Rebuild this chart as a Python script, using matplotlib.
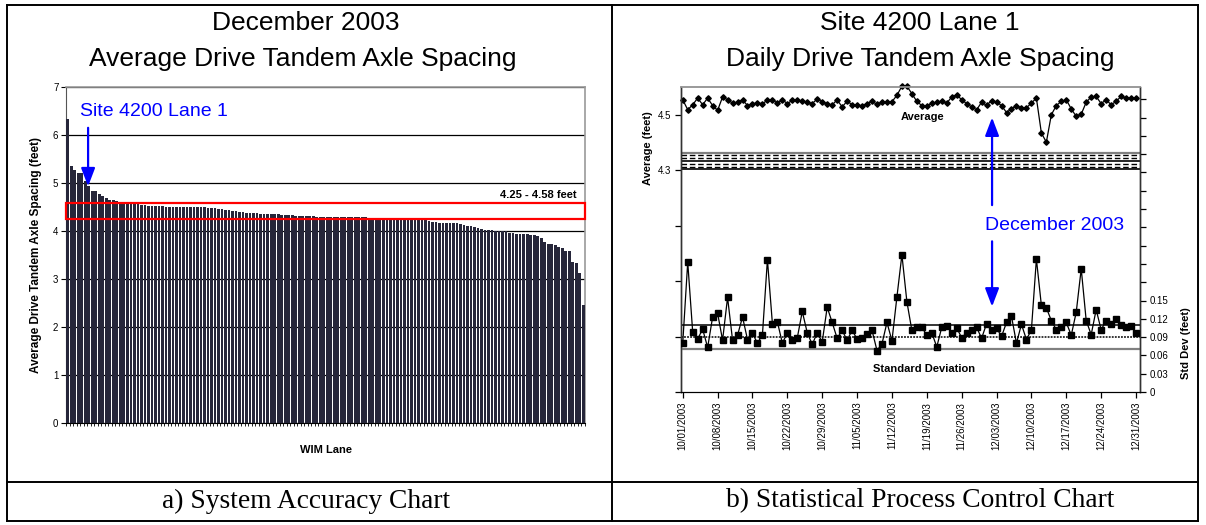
import matplotlib
matplotlib.use("Agg")
import matplotlib.pyplot as plt
import numpy as np
import pandas as pd
from matplotlib.lines import Line2D

plt.rcParams['font.family'] = ['Liberation Sans', 'DejaVu Sans']

# ---------------- data: left chart (sorted lane averages) ----------------
lane_avg = [6.33, 5.35, 5.27, 5.21, 5.20, 5.05, 4.93, 4.84, 4.83, 4.77,
            4.72, 4.68, 4.65, 4.65, 4.62, 4.60, 4.60, 4.59, 4.59, 4.58,
            4.57, 4.55, 4.54, 4.53, 4.53, 4.52, 4.52, 4.52, 4.51, 4.51,
            4.51, 4.51, 4.51, 4.50, 4.50, 4.50, 4.50, 4.50, 4.50, 4.49,
            4.48, 4.47, 4.47, 4.46, 4.45, 4.44, 4.43, 4.42, 4.41, 4.40,
            4.39, 4.38, 4.37, 4.37, 4.37, 4.36, 4.36, 4.36, 4.35, 4.35,
            4.35, 4.34, 4.34, 4.33, 4.33, 4.32, 4.32, 4.32, 4.31, 4.31,
            4.31, 4.30, 4.30, 4.30, 4.30, 4.30, 4.30, 4.30, 4.30, 4.30,
            4.30, 4.29, 4.29, 4.29, 4.29, 4.29, 4.28, 4.28, 4.27, 4.27,
            4.26, 4.26, 4.26, 4.26, 4.25, 4.25, 4.25, 4.25, 4.24, 4.24,
            4.24, 4.24, 4.22, 4.20, 4.19, 4.18, 4.17, 4.17, 4.17, 4.16,
            4.16, 4.16, 4.14, 4.12, 4.10, 4.10, 4.09, 4.06, 4.04, 4.03,
            4.03, 4.02, 4.01, 4.00, 4.00, 3.99, 3.96, 3.95, 3.94, 3.94,
            3.93, 3.93, 3.92, 3.91, 3.89, 3.85, 3.77, 3.73, 3.73, 3.70,
            3.66, 3.64, 3.58, 3.58, 3.36, 3.34, 3.13, 2.46]
band_low, band_high = 4.25, 4.58

# ---------------- data: right chart (daily SPC) ----------------
dates = pd.date_range("2003-10-01", "2003-12-31", freq="D")
daily_avg = [4.554, 4.518, 4.536, 4.560, 4.536, 4.560, 4.533, 4.516, 4.564, 4.554,
             4.542, 4.545, 4.554, 4.533, 4.540, 4.542, 4.540, 4.552, 4.554, 4.542,
             4.554, 4.540, 4.552, 4.554, 4.548, 4.547, 4.540, 4.557, 4.547, 4.540,
             4.535, 4.554, 4.528, 4.549, 4.536, 4.534, 4.533, 4.540, 4.549, 4.537,
             4.547, 4.545, 4.547, 4.570, 4.603, 4.603,
             4.576, 4.548, 4.533, 4.530, 4.542, 4.545, 4.549, 4.542, 4.564, 4.572,
             4.554, 4.540, 4.528, 4.518, 4.545, 4.534, 4.551, 4.546, 4.533, 4.508,
             4.521, 4.533, 4.525, 4.525, 4.542, 4.560, 4.434, 4.401, 4.500, 4.533,
             4.548, 4.554, 4.521, 4.494, 4.502, 4.545, 4.564, 4.566, 4.540, 4.554,
             4.536, 4.548, 4.566, 4.560, 4.559, 4.559]
daily_std = [0.080, 0.213, 0.098, 0.087, 0.103, 0.073, 0.123, 0.129, 0.085, 0.155,
             0.085, 0.093, 0.123, 0.086, 0.096, 0.080, 0.094, 0.217, 0.112, 0.115,
             0.080, 0.097, 0.086, 0.089, 0.132, 0.097, 0.078, 0.097, 0.082, 0.139,
             0.114, 0.088, 0.101, 0.085, 0.101, 0.087, 0.089, 0.095, 0.101, 0.068,
             0.079, 0.114, 0.084, 0.156, 0.225, 0.148,
             0.101, 0.106, 0.106, 0.093, 0.097, 0.074, 0.106, 0.109, 0.096, 0.105,
             0.089, 0.097, 0.101, 0.106, 0.088, 0.112, 0.101, 0.105, 0.091, 0.114,
             0.124, 0.080, 0.111, 0.086, 0.102, 0.218, 0.142, 0.138, 0.117, 0.102,
             0.106, 0.114, 0.093, 0.131, 0.202, 0.117, 0.094, 0.135, 0.102, 0.117,
             0.112, 0.119, 0.110, 0.107, 0.109, 0.097]
avg_limits_solid = [4.303, 4.333]
avg_limit_gray = 4.363
avg_limits_dashed = [4.313, 4.323, 4.343, 4.353]
std_ucl, std_center, std_lcl = 0.11, 0.09, 0.07
date_ticks = dates[::7]

W, H = 1206, 525
fig = plt.figure(figsize=(W / 100, H / 100), dpi=100)
fig.patch.set_facecolor('white')

def fx(px):
    return px / W

def fy(py):
    return 1 - py / H

# ---------------- table frame ----------------
frame_kw = dict(color='black', lw=1.4, transform=fig.transFigure)
fig.add_artist(Line2D([fx(7), fx(1198)], [fy(5), fy(5)], **frame_kw))
fig.add_artist(Line2D([fx(7), fx(1198)], [fy(521), fy(521)], **frame_kw))
fig.add_artist(Line2D([fx(7), fx(7)], [fy(5), fy(521)], **frame_kw))
fig.add_artist(Line2D([fx(1198), fx(1198)], [fy(5), fy(521)], **frame_kw))
fig.add_artist(Line2D([fx(612), fx(612)], [fy(5), fy(521)], **frame_kw))
fig.add_artist(Line2D([fx(7), fx(1198)], [fy(482), fy(482)], **frame_kw))

serif = ['Liberation Serif', 'DejaVu Serif']
fig.text(fx(306), fy(501), "a) System Accuracy Chart", family=serif,
         fontsize=19.8, ha='center', va='center')
fig.text(fx(920), fy(501), "b) Statistical Process Control Chart", family=serif,
         fontsize=19.8, ha='center', va='center')

fig.text(fx(306), fy(23), "December 2003", fontsize=19, ha='center', va='center')
fig.text(fx(303), fy(59), "Average Drive Tandem Axle Spacing", fontsize=19,
         ha='center', va='center')
fig.text(fx(920), fy(23), "Site 4200 Lane 1", fontsize=19, ha='center', va='center')
fig.text(fx(920), fy(59), "Daily Drive Tandem Axle Spacing", fontsize=19,
         ha='center', va='center')

# ---------------- left chart ----------------
axL = fig.add_axes([fx(66), fy(423), (585 - 66) / W, (423 - 87) / H])
n = len(lane_avg)
xs = np.arange(n)
axL.bar(xs, lane_avg, width=0.78, color='#26263a', edgecolor='none',
        linewidth=0, zorder=3)
axL.set_xlim(-0.5, n - 0.5)
axL.set_ylim(0, 7)
axL.set_yticks(range(0, 8))
axL.yaxis.grid(True, color='black', lw=0.9, zorder=1)
axL.set_axisbelow(True)
axL.set_xticks(np.arange(n + 1) - 0.5)
axL.set_xticklabels([])
axL.tick_params(axis='x', length=2.5, width=0.6, direction='out')
axL.tick_params(axis='y', length=3.5, width=0.8, labelsize=7, pad=2)
for s in ['top', 'right']:
    axL.spines[s].set_color('#9a9a9a')
    axL.spines[s].set_linewidth(1.2)
axL.spines['left'].set_color('#555555')
axL.spines['bottom'].set_color('black')
axL.set_ylabel("Average Drive Tandem Axle Spacing (feet)", fontsize=8.5,
               fontweight='bold', labelpad=8)
axL.set_xlabel("WIM Lane", fontsize=8, fontweight='bold', labelpad=10)

axL.add_patch(plt.Rectangle((-0.5, band_low), n, band_high - band_low,
                            fill=False, edgecolor='red', lw=1.6, zorder=5,
                            clip_on=False))
axL.text(n - 2.8, band_high + 0.17, "4.25 - 4.58 feet", fontsize=8,
         fontweight='bold', ha='right', va='center')
axL.text(3.5, 6.5, "Site 4200 Lane 1", color='blue', fontsize=14,
         ha='left', va='center')
arrow_style = '-|>,head_length=1.1,head_width=0.42'
axL.annotate("", xy=(5.8, 4.93), xytext=(5.8, 6.15),
             arrowprops=dict(arrowstyle=arrow_style, color='blue', lw=1.6,
                             shrinkA=0, shrinkB=0),
             zorder=6)

# ---------------- right chart ----------------
axR = fig.add_axes([fx(681), fy(392), (1140 - 681) / W, (392 - 87) / H])
axS = axR.twinx()
days = np.arange(len(dates))

axR.plot(days, daily_avg, color='black', lw=0.9, marker='D', markersize=2.8,
         clip_on=False, zorder=4)
for v in avg_limits_solid:
    axR.axhline(v, color='black', lw=1.2)
axR.axhline(avg_limit_gray, color='#808080', lw=1.6)
for v in avg_limits_dashed:
    axR.axhline(v, color='black', lw=1.0, ls=(0, (4, 2)))
axR.set_ylim(3.5, 4.6)
avg_ticks = np.round(np.arange(3.5, 4.6, 0.2), 1)
axR.set_yticks(avg_ticks)
axR.set_yticklabels([f"{t:.1f}" if t >= 4.3 else "" for t in avg_ticks])
axR.tick_params(axis='y', length=4, width=0.9, labelsize=7, pad=3)
axR.set_ylabel("Average (feet)", fontsize=8, fontweight='bold', labelpad=8)
axR.yaxis.set_label_coords(-0.062, 0.8)

axS.plot(days, daily_std, color='black', lw=0.9, marker='s', markersize=4,
         zorder=4)
axS.axhline(std_ucl, color='black', lw=1.1)
axS.axhline(std_center, color='black', lw=1.1, ls=(0, (1.2, 0.8)))
axS.axhline(std_lcl, color='#808080', lw=1.6)
axS.set_ylim(0, 0.5)
std_ticks = np.round(np.arange(0, 0.49, 0.03), 2)
axS.set_yticks(std_ticks)
axS.set_yticklabels([("0" if t == 0 else f"{t:.2f}") if t <= 0.15 else ""
                     for t in std_ticks])
axS.tick_params(axis='y', length=4, width=0.9, labelsize=7, pad=3)
axS.set_ylabel("Std Dev (feet)", fontsize=8, fontweight='bold', labelpad=8)
axS.yaxis.set_label_coords(1.09, 0.16)

axR.set_xlim(-0.35, len(dates) - 0.2)
tick_pos = [days[dates == d][0] for d in date_ticks]
axR.set_xticks(tick_pos)
axR.set_xticklabels([d.strftime("%m/%d/%Y") for d in date_ticks], rotation=90,
                    fontsize=7)
axR.tick_params(axis='x', length=4, width=0.9, pad=3)

for a in (axR, axS):
    a.spines['top'].set_color('#9a9a9a')
    a.spines['top'].set_linewidth(1.2)
    a.spines['left'].set_color('#333333')
    a.spines['right'].set_color('#333333')
    a.spines['left'].set_linewidth(1.0)
    a.spines['right'].set_linewidth(1.0)

axR.text(43.7, 4.493, "Average", fontsize=8, fontweight='bold', ha='left',
         va='center')
axS.text(38.1, 0.038, "Standard Deviation", fontsize=8, fontweight='bold',
         ha='left', va='center')
axS.text(60.7, 0.273, "December 2003", color='blue', fontsize=14,
         ha='left', va='center')
axR.annotate("", xy=(62.1, 4.49), xytext=(62.1, 4.174),
             arrowprops=dict(arrowstyle=arrow_style, color='blue', lw=1.6,
                             shrinkA=0, shrinkB=0))
axS.annotate("", xy=(62.1, 0.140), xytext=(62.1, 0.247),
             arrowprops=dict(arrowstyle=arrow_style, color='blue', lw=1.6,
                             shrinkA=0, shrinkB=0))

fig.savefig("out.png", dpi=100, facecolor='white')
